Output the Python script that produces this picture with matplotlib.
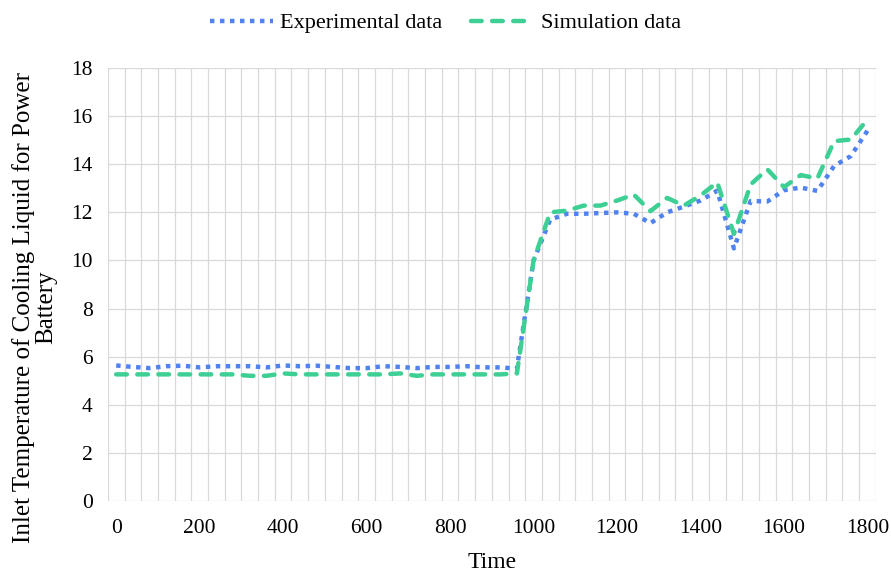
import numpy as np
import matplotlib.pyplot as plt
from matplotlib.ticker import MultipleLocator, FixedLocator

plt.rcParams['font.family'] = ['Liberation Serif', 'DejaVu Serif']

time = list(range(0, 1801, 40))

experimental = [5.63, 5.57, 5.52, 5.6, 5.62, 5.55, 5.6, 5.6, 5.6, 5.55,
                5.63, 5.6, 5.62, 5.57, 5.52, 5.52, 5.6, 5.57, 5.52, 5.57,
                5.57, 5.6, 5.55, 5.55, 5.5, 10.0, 11.7, 11.94, 11.94, 11.97,
                12.0, 11.94, 11.55, 12.0, 12.24, 12.49, 12.9, 10.5, 12.47, 12.45,
                12.92, 13.03, 12.89, 13.93, 14.34, 15.4]

simulation = [5.26, 5.26, 5.26, 5.26, 5.26, 5.26, 5.26, 5.26, 5.2, 5.2,
              5.3, 5.26, 5.26, 5.26, 5.26, 5.26, 5.26, 5.3, 5.2, 5.26,
              5.26, 5.26, 5.26, 5.26, 5.3, 10.0, 12.0, 12.07, 12.28, 12.28,
              12.49, 12.74, 12.05, 12.6, 12.28, 12.7, 13.25, 11.1, 13.16, 13.79,
              13.05, 13.55, 13.41, 14.96, 15.03, 15.86]

fig = plt.figure(figsize=(8.91, 5.77), dpi=100)
ax = fig.add_axes([0.121, 0.132, 0.862, 0.750])

ax.plot(time, experimental, color='#5082F0', lw=3.2, linestyle=(0, (1, 1.25)),
        label='Experimental data')
ax.plot(time, simulation, color='#3DCF94', lw=3.2, linestyle=(0, (2.4, 2.35)),
        dash_capstyle='round', label='Simulation data')

ax.set_xlim(-20, 1820)
ax.set_ylim(0, 18)
ax.xaxis.set_major_locator(FixedLocator(range(0, 1801, 200)))
ax.xaxis.set_minor_locator(FixedLocator(np.arange(-20, 1821, 40)))
ax.yaxis.set_major_locator(MultipleLocator(2))
ax.grid(True, which='minor', axis='x', color='#D9D9D9', lw=0.9)
ax.grid(True, which='major', axis='y', color='#D9D9D9', lw=0.9)
ax.set_axisbelow(True)
for s in ax.spines.values():
    s.set_visible(False)
ax.tick_params(which='both', length=0, labelsize=15.5, labelcolor='black')
ax.tick_params(axis='x', pad=13)
ax.tick_params(axis='y', pad=11)

ax.set_xlabel('Time', fontsize=17, labelpad=10)
ax.set_ylabel('Inlet Temperature of Cooling Liquid for Power\nBattery',
              fontsize=18, linespacing=1.0)
ax.yaxis.set_label_coords(-0.066, 0.447)

fig.legend(loc='center', bbox_to_anchor=(0.5, 0.960), ncol=2, frameon=False,
           fontsize=16, handlelength=2.85, handletextpad=0.3, columnspacing=1.3)

fig.savefig('out.png', dpi=100)
